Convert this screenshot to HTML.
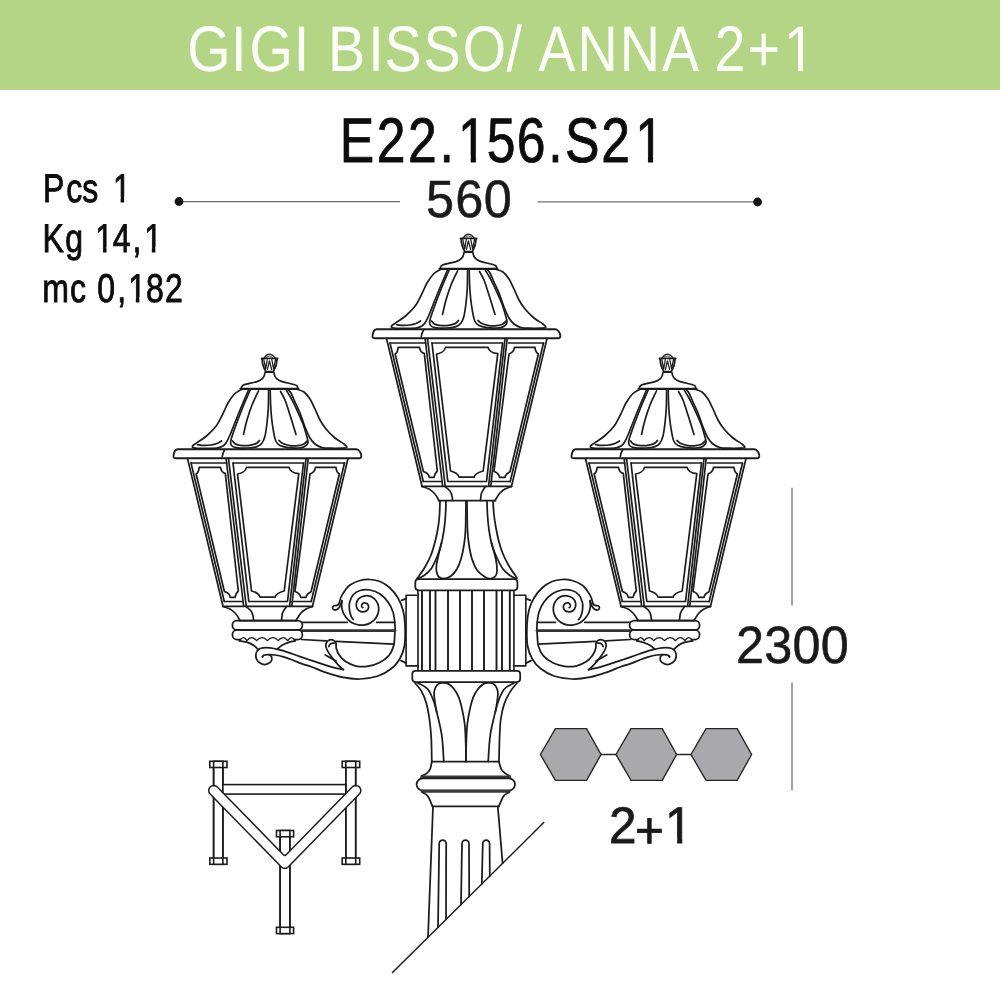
<!DOCTYPE html>
<html lang="en">
<head>
<meta charset="utf-8">
<title>GIGI BISSO/ ANNA 2+1 - E22.156.S21</title>
<style>
html,body{margin:0;padding:0;background:#fff;}
body{width:1000px;height:1000px;overflow:hidden;position:relative;font-family:"Liberation Sans",sans-serif;}
svg{position:absolute;left:0;top:0;display:block;will-change:transform;transform:translateZ(0);}
text{font-family:"Liberation Sans",sans-serif;-webkit-font-smoothing:antialiased;text-rendering:geometricPrecision;}
</style>
</head>
<body>
<svg width="1000" height="1000" viewBox="0 0 1000 1000">
<rect x="0" y="0" width="1000" height="1000" fill="#ffffff"/>
<rect x="0" y="0" width="1000" height="90" fill="#b4d586"/>
<text id="t_title" transform="translate(0,71.3) scale(0.8654,1)" x="216.5 267.0 288.2 339.3 357.2 379.0 425.5 444.2 489.5 534.8 585.4 603.3 622.1 667.2 716.2 764.9 807.9 825.5 863.9 906.0" y="0" font-size="64.4" fill="#fcfff8">GIGI BISSO/ ANNA 2+1</text><g transform="translate(0,71.3) scale(0.8654,1)" fill="#b4d586" stroke="none"><rect x="909.66" y="-6.01" width="12.49" height="7.81"/><rect x="927.85" y="-6.01" width="12.39" height="7.81"/></g>
<text id="t_code" transform="translate(0,161.9) scale(0.8200,1)" x="414.2 459.4 497.6 536.1 558.6 593.5 630.1 668.5 689.1 733.2 774.7" y="0" font-size="63" fill="#0c0c0c" stroke="#0c0c0c" stroke-width="0.8">E22.156.S21</text><g transform="translate(0,161.9) scale(0.8200,1)" fill="#ffffff" stroke="none"><rect x="561.79" y="-6.31" width="12.24" height="8.11"/><rect x="580.40" y="-6.31" width="12.15" height="8.11"/><rect x="777.89" y="-6.31" width="12.24" height="8.11"/><rect x="796.50" y="-6.31" width="12.15" height="8.11"/></g>
<text id="t_pcs" transform="translate(0,201.8) scale(0.8000,1)" x="53.8 82.9 102.9 122.9 141.2" y="0" font-size="40" fill="#0c0c0c" stroke="#0c0c0c" stroke-width="0.9">Pcs 1</text><g transform="translate(0,201.8) scale(0.8000,1)" fill="#ffffff" stroke="none"><rect x="142.55" y="-4.64" width="8.21" height="6.44"/><rect x="155.20" y="-4.64" width="8.30" height="6.44"/></g>
<text id="t_kg" transform="translate(0,251.8) scale(0.8000,1)" x="53.2 81.6 103.8 119.2 140.8 165.7 180.2" y="0" font-size="40" fill="#0c0c0c" stroke="#0c0c0c" stroke-width="0.9">Kg 14,1</text><g transform="translate(0,251.8) scale(0.8000,1)" fill="#ffffff" stroke="none"><rect x="120.55" y="-4.64" width="8.21" height="6.44"/><rect x="133.20" y="-4.64" width="8.30" height="6.44"/><rect x="181.55" y="-4.64" width="8.21" height="6.44"/><rect x="194.20" y="-4.64" width="8.30" height="6.44"/></g>
<text id="t_mc" transform="translate(0,301.6) scale(0.8000,1)" x="52.8 87.4 107.4 121.6 146.7 160.2 182.6 206.1" y="0" font-size="40" fill="#0c0c0c" stroke="#0c0c0c" stroke-width="0.9">mc 0,182</text><g transform="translate(0,301.6) scale(0.8000,1)" fill="#ffffff" stroke="none"><rect x="161.55" y="-4.64" width="8.21" height="6.44"/><rect x="174.20" y="-4.64" width="8.30" height="6.44"/></g>
<text id="t_560" transform="translate(0,217.4) scale(0.9600,1)" x="443.8 474.3 503.8" y="0" font-size="52.5" fill="#1a1a1a" stroke="#1a1a1a" stroke-width="0.5">560</text>
<text id="t_2300" transform="translate(0,663.1) scale(0.9600,1)" x="766.7 796.0 825.5 854.9" y="0" font-size="52.5" fill="#1a1a1a" stroke="#1a1a1a" stroke-width="0.5">2300</text>
<text id="t_21" transform="translate(0,843.0) scale(0.9600,1)" x="634.3 661.5 692.8" y="0" dy="0 4.6 -4.6" font-size="51.5" fill="#1a1a1a" stroke="#1a1a1a" stroke-width="0.8">2+1</text><g transform="translate(0,843.0) scale(0.9600,1)" fill="#ffffff" stroke="none"><rect x="695.13" y="-5.45" width="10.23" height="7.25"/><rect x="710.71" y="-5.45" width="10.23" height="7.25"/></g>
<g id="dimension-lines" fill="none" stroke="#707070" stroke-width="1.3">
<path d="M179,201.6H400M537.5,201.8H757.5"/>
<path d="M792,487.8V605.5M792,682.5V790.5"/>
</g>
<circle cx="179" cy="201.5" r="4.4" fill="#141414"/>
<circle cx="757.6" cy="202" r="4.4" fill="#141414"/>
<polygon points="540.4,754.5 555.4,728.6 586.6,728.6 601,754.5 586.6,780.4 555.4,780.4" fill="#a9a9ab" stroke="#262626" stroke-width="1.4" stroke-linejoin="miter"/>
<polygon points="616,754.5 631,728.6 662.2,728.6 676.6,754.5 662.2,780.4 631,780.4" fill="#a9a9ab" stroke="#262626" stroke-width="1.4" stroke-linejoin="miter"/>
<polygon points="691,754.5 706,728.6 737.2,728.6 751.6,754.5 737.2,780.4 706,780.4" fill="#a9a9ab" stroke="#262626" stroke-width="1.4" stroke-linejoin="miter"/>
<path d="M601,754.5H616M676.6,754.5H691" stroke="#262626" stroke-width="1.4" fill="none"/>
<g id="plan-icon" fill="#ffffff" stroke="#1c1c1c" stroke-width="1.6">
<rect x="213.6" y="761.3" width="9.3" height="103"/><rect x="209.8" y="761.3" width="17.2" height="6.2"/><rect x="209.8" y="858" width="17.2" height="6.3"/><path d="M213.6,761.3V864.3M222.9,761.3V864.3" fill="none"/>
<rect x="345.8" y="761.3" width="9.9" height="103"/><rect x="342.2" y="761.3" width="17.5" height="6.2"/><rect x="342.2" y="858" width="17.5" height="6.3"/><path d="M345.8,761.3V864.3M355.7,761.3V864.3" fill="none"/>
<rect x="280.1" y="830.5" width="9.8" height="103.1"/><rect x="276.5" y="830.5" width="17.1" height="6.3"/><rect x="276.5" y="927.3" width="17.1" height="6.3"/><path d="M280.1,830.5V933.6M289.9,830.5V933.6" fill="none"/>
<rect x="222.9" y="784.6" width="122.9" height="9.5"/>
<path d="M210.12,793.99L281.22,866.79L281.99,867.43L282.86,867.91L283.81,868.2L284.8,868.3L285.79,868.2L286.74,867.91L287.62,867.43L288.38,866.79L359.38,793.99L360.16,792.95L360.65,791.73L360.8,790.44L360.61,789.15L360.1,787.95L359.29,786.92L358.25,786.14L357.03,785.65L355.74,785.5L354.45,785.69L353.25,786.2L352.22,787.01L286.19,854.71Q284.8,856.14 283.4,854.71L217.28,787.01L216.25,786.2L215.05,785.69L213.76,785.5L212.46,785.66L211.25,786.14L210.21,786.92L209.4,787.95L208.89,789.15L208.7,790.44L208.86,791.74L209.34,792.95L210.12,793.99Z" fill="#ffffff" stroke-width="1.5" stroke-linejoin="round"/>
</g>
<g id="drawing" fill="none" stroke="#1c1c1c" stroke-width="1.75" stroke-linecap="round" stroke-linejoin="round">
<g id="lantern-c" stroke-width="1.7">
<path d="M463.2,237.9Q468.3,230.2 474,237.9" stroke-width="1.25"/>
<path d="M465.2,237.5Q468.3,234.4 471.8,237.5" stroke-width="0.75"/>
<path d="M460.6,238.4H476.6" stroke-width="1.88"/>
<path d="M461.1,239.1C461.3,243 462,247 464.4,250.5M476.1,239.1C475.9,243 475,247 472.8,250.5" stroke-width="1.75"/>
<path d="M462.8,239.5L464.7,248.8L466.3,239.5M466.4,249.5L468.4,240.8L470.7,249.5M470.8,239.5L472.6,248.8L474.5,239.5" stroke-width="1.25"/>
<path d="M464.6,251.9H472.3" stroke-width="2.38"/>
<path d="M463.8,253.2C463.5,258 461,260 456,261.6C450,263.3 444,264 441.5,265.6C440.5,266.5 440.4,267.5 440.4,268.5"/>
<path d="M473.1,253.2C473.4,258 476,260 481.2,261.6C487,263.3 493,264 495.7,265.6C496.7,266.5 496.8,267.5 496.8,268.5"/>
<path d="M439.5,268.9H497.5" stroke-width="2.12"/>
<path d="M441,269.3C439.75,270.08 435.83,271.72 433.5,274C431.17,276.28 428.95,279.67 427,283C425.05,286.33 423.77,290.17 421.8,294C419.83,297.83 417.92,302.33 415.2,306C412.48,309.67 408.7,313.23 405.5,316C402.3,318.77 398.28,321 396,322.6C393.72,324.2 392.53,324.8 391.8,325.6C391.07,326.4 391.23,326.97 391.6,327.4C391.97,327.83 393.6,328.07 394,328.2"/>
<path d="M496,269.3C497.17,269.75 500.83,270.38 503,272C505.17,273.62 507.17,276.17 509,279C510.83,281.83 512.33,285.5 514,289C515.67,292.5 517.17,296.67 519,300C520.83,303.33 522.5,306 525,309C527.5,312 531,315.5 534,318C537,320.5 541.07,322.58 543,324C544.93,325.42 545.2,325.9 545.6,326.5C546,327.1 545.83,327.32 545.4,327.6C544.97,327.88 543.4,328.1 543,328.2"/>
<path d="M394,328.2C396.33,328.22 404.17,328.37 408,328.3C411.83,328.23 414.67,328.18 417,327.8C419.33,327.42 420.67,326.8 422,326C423.33,325.2 423.83,324.83 425,323C426.17,321.17 427.67,318 429,315C430.33,312 431.33,309.17 433,305C434.67,300.83 436.58,295.83 439,290C441.42,284.17 446.08,273.33 447.5,270"/>
<path d="M449,270.5C447.75,273.42 443.83,282.25 441.5,288C439.17,293.75 436.83,300 435,305C433.17,310 431.4,315.17 430.5,318C429.6,320.83 429.6,320.75 429.6,322C429.6,323.25 429.6,324.57 430.5,325.5C431.4,326.43 432.25,327.18 435,327.6C437.75,328.02 443.5,328.17 447,328C450.5,327.83 453.67,327.43 456,326.6C458.33,325.77 459.67,324.77 461,323C462.33,321.23 463.17,319.33 464,316C464.83,312.67 465.45,307.67 466,303C466.55,298.33 467.03,293.5 467.3,288C467.57,282.5 467.55,273 467.6,270"/>
<path d="M457.5,271C456.42,273.33 452.92,280.17 451,285C449.08,289.83 447.42,295.08 446,300C444.58,304.92 443.08,312.08 442.5,314.5"/>
<path d="M431.5,321C431.92,321.47 432.75,323.08 434,323.8C435.25,324.52 436.83,325 439,325.3C441.17,325.6 444.33,325.88 447,325.6C449.67,325.32 453.08,324.45 455,323.6C456.92,322.75 457.92,321.02 458.5,320.5"/>
<path d="M396.5,324.7C397.58,324.82 400.75,325.35 403,325.4C405.25,325.45 407.83,325.32 410,325C412.17,324.68 414.25,324.17 416,323.5C417.75,322.83 419.75,321.42 420.5,321"/>
<path d="M487,269.5C487.5,270.08 488.83,270.92 490,273C491.17,275.08 492.5,278.67 494,282C495.5,285.33 497.33,288.83 499,293C500.67,297.17 502.33,302.83 504,307C505.67,311.17 507.33,315.17 509,318C510.67,320.83 512,322.4 514,324C516,325.6 518.33,326.9 521,327.6C523.67,328.3 526.33,328.1 530,328.2C533.67,328.3 540.83,328.2 543,328.2"/>
<path d="M485.5,270.5C486.25,271.75 488.42,275.08 490,278C491.58,280.92 493,283.67 495,288C497,292.33 500.17,299.17 502,304C503.83,308.83 505.17,314.08 506,317C506.83,319.92 506.97,320.3 507,321.5C507.03,322.7 506.78,323.35 506.2,324.2C505.62,325.05 505.03,325.97 503.5,326.6C501.97,327.23 499.75,327.83 497,328C494.25,328.17 490,328 487,327.6C484,327.2 481,326.62 479,325.6C477,324.58 476.07,323.77 475,321.5C473.93,319.23 473.33,315.92 472.6,312C471.87,308.08 471.1,302.67 470.6,298C470.1,293.33 469.83,288.67 469.6,284C469.37,279.33 469.27,272.33 469.2,270"/>
<path d="M479.5,271.5C480.25,272.92 482.42,276.08 484,280C485.58,283.92 487.5,290.33 489,295C490.5,299.67 492,304.75 493,308C494,311.25 494.67,313.42 495,314.5"/>
<path d="M478,320.5C478.67,321.02 480.17,322.75 482,323.6C483.83,324.45 486.5,325.27 489,325.6C491.5,325.93 494.67,325.87 497,325.6C499.33,325.33 501.5,324.77 503,324C504.5,323.23 505.5,321.5 506,321"/>
<path d="M376.5,329.3H555.5C558.5,329.5 560.5,334 560.3,336.5C560.2,337.8 559.5,338.2 558,338.2H374.5C373,338.2 372.3,337.6 372.5,336C372.9,332.5 374,329.6 376.5,329.3Z" stroke-width="1.88"/>
<path d="M423.6,329.8C422.3,332 421.4,335 421,338"/>
<path d="M390,343H425.6M432,343H502.5M508.6,343H543.5"/>
<path d="M386.5,338.5L422,486.3"/>
<path d="M389.98,343L423.29,481.5"/>
<path d="M395.13,354C396.63,353 397.8,351 398.2,347.3H419.5C420,350.5 421.5,352.8 424.3,353.3L437.3,471C435.5,472.5 434.5,475 434,477.4H429.3C429,475 427.5,472.8 423.39,471.5Z"/>
<path d="M425.1,338.5L442.6,486"/>
<path d="M427.5,338.5L445.2,486"/>
<path d="M432,343L447.8,481.5L486.5,481.5L502.5,343"/>
<path d="M436.5,354C440,353.6 444.6,351.5 445.5,347.4H488C489,351.5 493.5,353.3 497.8,353.6L483.2,471C479,472 475,474 474,477.2H459.2C458,474 454.5,472 450.5,471Z"/>
<path d="M505,338.5L488.6,486"/>
<path d="M507.2,338.5L490.8,486"/>
<path d="M547,338.5L511.5,486.3"/>
<path d="M543.5,343L510.19,481.5"/>
<path d="M509,354C511.5,353 514,351 514.5,347.3H535C535.2,350.5 536,352.6 538.37,354L510.04,471.8C507.5,473 505.5,475 505,477.3H499.6C499.2,475 497,472.5 494,471.5Z"/>
<path d="M423.29,481.5H441.8M490.8,481.5H510.19"/>
<path d="M422,486.3H511.5" stroke-width="1.75"/>
<path d="M422,486.5C423.17,486.92 427,487.92 429,489C431,490.08 432.67,491.67 434,493C435.33,494.33 436.17,495.75 437,497C437.83,498.25 438.67,499.92 439,500.5"/>
<path d="M511.5,486.5C510.42,486.92 506.92,487.92 505,489C503.08,490.08 501.42,491.5 500,493C498.58,494.5 497.33,496.75 496.5,498C495.67,499.25 495.25,500.08 495,500.5"/>
<path d="M445,486.5C445.83,487.25 448.83,489.42 450,491C451.17,492.58 451.58,494.42 452,496C452.42,497.58 452.42,499.75 452.5,500.5"/>
<path d="M485.5,486.5C484.83,487.58 482.33,490.67 481.5,493C480.67,495.33 480.67,499.25 480.5,500.5"/>
<path d="M438.5,500.6H495.5" stroke-width="1.75"/>
</g>
<g id="lantern-l" stroke-width="1.7" transform="translate(-199,120)">
<path d="M463.2,237.9Q468.3,230.2 474,237.9" stroke-width="1.25"/>
<path d="M465.2,237.5Q468.3,234.4 471.8,237.5" stroke-width="0.75"/>
<path d="M460.6,238.4H476.6" stroke-width="1.88"/>
<path d="M461.1,239.1C461.3,243 462,247 464.4,250.5M476.1,239.1C475.9,243 475,247 472.8,250.5" stroke-width="1.75"/>
<path d="M462.8,239.5L464.7,248.8L466.3,239.5M466.4,249.5L468.4,240.8L470.7,249.5M470.8,239.5L472.6,248.8L474.5,239.5" stroke-width="1.25"/>
<path d="M464.6,251.9H472.3" stroke-width="2.38"/>
<path d="M463.8,253.2C463.5,258 461,260 456,261.6C450,263.3 444,264 441.5,265.6C440.5,266.5 440.4,267.5 440.4,268.5"/>
<path d="M473.1,253.2C473.4,258 476,260 481.2,261.6C487,263.3 493,264 495.7,265.6C496.7,266.5 496.8,267.5 496.8,268.5"/>
<path d="M439.5,268.9H497.5" stroke-width="2.12"/>
<path d="M441,269.3C439.75,270.08 435.83,271.72 433.5,274C431.17,276.28 428.95,279.67 427,283C425.05,286.33 423.77,290.17 421.8,294C419.83,297.83 417.92,302.33 415.2,306C412.48,309.67 408.7,313.23 405.5,316C402.3,318.77 398.28,321 396,322.6C393.72,324.2 392.53,324.8 391.8,325.6C391.07,326.4 391.23,326.97 391.6,327.4C391.97,327.83 393.6,328.07 394,328.2"/>
<path d="M496,269.3C497.17,269.75 500.83,270.38 503,272C505.17,273.62 507.17,276.17 509,279C510.83,281.83 512.33,285.5 514,289C515.67,292.5 517.17,296.67 519,300C520.83,303.33 522.5,306 525,309C527.5,312 531,315.5 534,318C537,320.5 541.07,322.58 543,324C544.93,325.42 545.2,325.9 545.6,326.5C546,327.1 545.83,327.32 545.4,327.6C544.97,327.88 543.4,328.1 543,328.2"/>
<path d="M394,328.2C396.33,328.22 404.17,328.37 408,328.3C411.83,328.23 414.67,328.18 417,327.8C419.33,327.42 420.67,326.8 422,326C423.33,325.2 423.83,324.83 425,323C426.17,321.17 427.67,318 429,315C430.33,312 431.33,309.17 433,305C434.67,300.83 436.58,295.83 439,290C441.42,284.17 446.08,273.33 447.5,270"/>
<path d="M449,270.5C447.75,273.42 443.83,282.25 441.5,288C439.17,293.75 436.83,300 435,305C433.17,310 431.4,315.17 430.5,318C429.6,320.83 429.6,320.75 429.6,322C429.6,323.25 429.6,324.57 430.5,325.5C431.4,326.43 432.25,327.18 435,327.6C437.75,328.02 443.5,328.17 447,328C450.5,327.83 453.67,327.43 456,326.6C458.33,325.77 459.67,324.77 461,323C462.33,321.23 463.17,319.33 464,316C464.83,312.67 465.45,307.67 466,303C466.55,298.33 467.03,293.5 467.3,288C467.57,282.5 467.55,273 467.6,270"/>
<path d="M457.5,271C456.42,273.33 452.92,280.17 451,285C449.08,289.83 447.42,295.08 446,300C444.58,304.92 443.08,312.08 442.5,314.5"/>
<path d="M431.5,321C431.92,321.47 432.75,323.08 434,323.8C435.25,324.52 436.83,325 439,325.3C441.17,325.6 444.33,325.88 447,325.6C449.67,325.32 453.08,324.45 455,323.6C456.92,322.75 457.92,321.02 458.5,320.5"/>
<path d="M396.5,324.7C397.58,324.82 400.75,325.35 403,325.4C405.25,325.45 407.83,325.32 410,325C412.17,324.68 414.25,324.17 416,323.5C417.75,322.83 419.75,321.42 420.5,321"/>
<path d="M487,269.5C487.5,270.08 488.83,270.92 490,273C491.17,275.08 492.5,278.67 494,282C495.5,285.33 497.33,288.83 499,293C500.67,297.17 502.33,302.83 504,307C505.67,311.17 507.33,315.17 509,318C510.67,320.83 512,322.4 514,324C516,325.6 518.33,326.9 521,327.6C523.67,328.3 526.33,328.1 530,328.2C533.67,328.3 540.83,328.2 543,328.2"/>
<path d="M485.5,270.5C486.25,271.75 488.42,275.08 490,278C491.58,280.92 493,283.67 495,288C497,292.33 500.17,299.17 502,304C503.83,308.83 505.17,314.08 506,317C506.83,319.92 506.97,320.3 507,321.5C507.03,322.7 506.78,323.35 506.2,324.2C505.62,325.05 505.03,325.97 503.5,326.6C501.97,327.23 499.75,327.83 497,328C494.25,328.17 490,328 487,327.6C484,327.2 481,326.62 479,325.6C477,324.58 476.07,323.77 475,321.5C473.93,319.23 473.33,315.92 472.6,312C471.87,308.08 471.1,302.67 470.6,298C470.1,293.33 469.83,288.67 469.6,284C469.37,279.33 469.27,272.33 469.2,270"/>
<path d="M479.5,271.5C480.25,272.92 482.42,276.08 484,280C485.58,283.92 487.5,290.33 489,295C490.5,299.67 492,304.75 493,308C494,311.25 494.67,313.42 495,314.5"/>
<path d="M478,320.5C478.67,321.02 480.17,322.75 482,323.6C483.83,324.45 486.5,325.27 489,325.6C491.5,325.93 494.67,325.87 497,325.6C499.33,325.33 501.5,324.77 503,324C504.5,323.23 505.5,321.5 506,321"/>
<path d="M376.5,329.3H555.5C558.5,329.5 560.5,334 560.3,336.5C560.2,337.8 559.5,338.2 558,338.2H374.5C373,338.2 372.3,337.6 372.5,336C372.9,332.5 374,329.6 376.5,329.3Z" stroke-width="1.88"/>
<path d="M423.6,329.8C422.3,332 421.4,335 421,338"/>
<path d="M390,343H425.6M432,343H502.5M508.6,343H543.5"/>
<path d="M386.5,338.5L422,486.3"/>
<path d="M389.98,343L423.29,481.5"/>
<path d="M395.13,354C396.63,353 397.8,351 398.2,347.3H419.5C420,350.5 421.5,352.8 424.3,353.3L437.3,471C435.5,472.5 434.5,475 434,477.4H429.3C429,475 427.5,472.8 423.39,471.5Z"/>
<path d="M425.1,338.5L442.6,486"/>
<path d="M427.5,338.5L445.2,486"/>
<path d="M432,343L447.8,481.5L486.5,481.5L502.5,343"/>
<path d="M436.5,354C440,353.6 444.6,351.5 445.5,347.4H488C489,351.5 493.5,353.3 497.8,353.6L483.2,471C479,472 475,474 474,477.2H459.2C458,474 454.5,472 450.5,471Z"/>
<path d="M505,338.5L488.6,486"/>
<path d="M507.2,338.5L490.8,486"/>
<path d="M547,338.5L511.5,486.3"/>
<path d="M543.5,343L510.19,481.5"/>
<path d="M509,354C511.5,353 514,351 514.5,347.3H535C535.2,350.5 536,352.6 538.37,354L510.04,471.8C507.5,473 505.5,475 505,477.3H499.6C499.2,475 497,472.5 494,471.5Z"/>
<path d="M423.29,481.5H441.8M490.8,481.5H510.19"/>
<path d="M422,486.3H511.5" stroke-width="1.75"/>
<path d="M422,486.5C423.17,486.92 427,487.92 429,489C431,490.08 432.67,491.67 434,493C435.33,494.33 436.17,495.75 437,497C437.83,498.25 438.67,499.92 439,500.5"/>
<path d="M511.5,486.5C510.42,486.92 506.92,487.92 505,489C503.08,490.08 501.42,491.5 500,493C498.58,494.5 497.33,496.75 496.5,498C495.67,499.25 495.25,500.08 495,500.5"/>
<path d="M445,486.5C445.83,487.25 448.83,489.42 450,491C451.17,492.58 451.58,494.42 452,496C452.42,497.58 452.42,499.75 452.5,500.5"/>
<path d="M485.5,486.5C484.83,487.58 482.33,490.67 481.5,493C480.67,495.33 480.67,499.25 480.5,500.5"/>
<path d="M438.5,500.6H495.5" stroke-width="1.75"/>
</g>
<g id="lantern-r" stroke-width="1.7" transform="translate(199,120)">
<path d="M463.2,237.9Q468.3,230.2 474,237.9" stroke-width="1.25"/>
<path d="M465.2,237.5Q468.3,234.4 471.8,237.5" stroke-width="0.75"/>
<path d="M460.6,238.4H476.6" stroke-width="1.88"/>
<path d="M461.1,239.1C461.3,243 462,247 464.4,250.5M476.1,239.1C475.9,243 475,247 472.8,250.5" stroke-width="1.75"/>
<path d="M462.8,239.5L464.7,248.8L466.3,239.5M466.4,249.5L468.4,240.8L470.7,249.5M470.8,239.5L472.6,248.8L474.5,239.5" stroke-width="1.25"/>
<path d="M464.6,251.9H472.3" stroke-width="2.38"/>
<path d="M463.8,253.2C463.5,258 461,260 456,261.6C450,263.3 444,264 441.5,265.6C440.5,266.5 440.4,267.5 440.4,268.5"/>
<path d="M473.1,253.2C473.4,258 476,260 481.2,261.6C487,263.3 493,264 495.7,265.6C496.7,266.5 496.8,267.5 496.8,268.5"/>
<path d="M439.5,268.9H497.5" stroke-width="2.12"/>
<path d="M441,269.3C439.75,270.08 435.83,271.72 433.5,274C431.17,276.28 428.95,279.67 427,283C425.05,286.33 423.77,290.17 421.8,294C419.83,297.83 417.92,302.33 415.2,306C412.48,309.67 408.7,313.23 405.5,316C402.3,318.77 398.28,321 396,322.6C393.72,324.2 392.53,324.8 391.8,325.6C391.07,326.4 391.23,326.97 391.6,327.4C391.97,327.83 393.6,328.07 394,328.2"/>
<path d="M496,269.3C497.17,269.75 500.83,270.38 503,272C505.17,273.62 507.17,276.17 509,279C510.83,281.83 512.33,285.5 514,289C515.67,292.5 517.17,296.67 519,300C520.83,303.33 522.5,306 525,309C527.5,312 531,315.5 534,318C537,320.5 541.07,322.58 543,324C544.93,325.42 545.2,325.9 545.6,326.5C546,327.1 545.83,327.32 545.4,327.6C544.97,327.88 543.4,328.1 543,328.2"/>
<path d="M394,328.2C396.33,328.22 404.17,328.37 408,328.3C411.83,328.23 414.67,328.18 417,327.8C419.33,327.42 420.67,326.8 422,326C423.33,325.2 423.83,324.83 425,323C426.17,321.17 427.67,318 429,315C430.33,312 431.33,309.17 433,305C434.67,300.83 436.58,295.83 439,290C441.42,284.17 446.08,273.33 447.5,270"/>
<path d="M449,270.5C447.75,273.42 443.83,282.25 441.5,288C439.17,293.75 436.83,300 435,305C433.17,310 431.4,315.17 430.5,318C429.6,320.83 429.6,320.75 429.6,322C429.6,323.25 429.6,324.57 430.5,325.5C431.4,326.43 432.25,327.18 435,327.6C437.75,328.02 443.5,328.17 447,328C450.5,327.83 453.67,327.43 456,326.6C458.33,325.77 459.67,324.77 461,323C462.33,321.23 463.17,319.33 464,316C464.83,312.67 465.45,307.67 466,303C466.55,298.33 467.03,293.5 467.3,288C467.57,282.5 467.55,273 467.6,270"/>
<path d="M457.5,271C456.42,273.33 452.92,280.17 451,285C449.08,289.83 447.42,295.08 446,300C444.58,304.92 443.08,312.08 442.5,314.5"/>
<path d="M431.5,321C431.92,321.47 432.75,323.08 434,323.8C435.25,324.52 436.83,325 439,325.3C441.17,325.6 444.33,325.88 447,325.6C449.67,325.32 453.08,324.45 455,323.6C456.92,322.75 457.92,321.02 458.5,320.5"/>
<path d="M396.5,324.7C397.58,324.82 400.75,325.35 403,325.4C405.25,325.45 407.83,325.32 410,325C412.17,324.68 414.25,324.17 416,323.5C417.75,322.83 419.75,321.42 420.5,321"/>
<path d="M487,269.5C487.5,270.08 488.83,270.92 490,273C491.17,275.08 492.5,278.67 494,282C495.5,285.33 497.33,288.83 499,293C500.67,297.17 502.33,302.83 504,307C505.67,311.17 507.33,315.17 509,318C510.67,320.83 512,322.4 514,324C516,325.6 518.33,326.9 521,327.6C523.67,328.3 526.33,328.1 530,328.2C533.67,328.3 540.83,328.2 543,328.2"/>
<path d="M485.5,270.5C486.25,271.75 488.42,275.08 490,278C491.58,280.92 493,283.67 495,288C497,292.33 500.17,299.17 502,304C503.83,308.83 505.17,314.08 506,317C506.83,319.92 506.97,320.3 507,321.5C507.03,322.7 506.78,323.35 506.2,324.2C505.62,325.05 505.03,325.97 503.5,326.6C501.97,327.23 499.75,327.83 497,328C494.25,328.17 490,328 487,327.6C484,327.2 481,326.62 479,325.6C477,324.58 476.07,323.77 475,321.5C473.93,319.23 473.33,315.92 472.6,312C471.87,308.08 471.1,302.67 470.6,298C470.1,293.33 469.83,288.67 469.6,284C469.37,279.33 469.27,272.33 469.2,270"/>
<path d="M479.5,271.5C480.25,272.92 482.42,276.08 484,280C485.58,283.92 487.5,290.33 489,295C490.5,299.67 492,304.75 493,308C494,311.25 494.67,313.42 495,314.5"/>
<path d="M478,320.5C478.67,321.02 480.17,322.75 482,323.6C483.83,324.45 486.5,325.27 489,325.6C491.5,325.93 494.67,325.87 497,325.6C499.33,325.33 501.5,324.77 503,324C504.5,323.23 505.5,321.5 506,321"/>
<path d="M376.5,329.3H555.5C558.5,329.5 560.5,334 560.3,336.5C560.2,337.8 559.5,338.2 558,338.2H374.5C373,338.2 372.3,337.6 372.5,336C372.9,332.5 374,329.6 376.5,329.3Z" stroke-width="1.88"/>
<path d="M423.6,329.8C422.3,332 421.4,335 421,338"/>
<path d="M390,343H425.6M432,343H502.5M508.6,343H543.5"/>
<path d="M386.5,338.5L422,486.3"/>
<path d="M389.98,343L423.29,481.5"/>
<path d="M395.13,354C396.63,353 397.8,351 398.2,347.3H419.5C420,350.5 421.5,352.8 424.3,353.3L437.3,471C435.5,472.5 434.5,475 434,477.4H429.3C429,475 427.5,472.8 423.39,471.5Z"/>
<path d="M425.1,338.5L442.6,486"/>
<path d="M427.5,338.5L445.2,486"/>
<path d="M432,343L447.8,481.5L486.5,481.5L502.5,343"/>
<path d="M436.5,354C440,353.6 444.6,351.5 445.5,347.4H488C489,351.5 493.5,353.3 497.8,353.6L483.2,471C479,472 475,474 474,477.2H459.2C458,474 454.5,472 450.5,471Z"/>
<path d="M505,338.5L488.6,486"/>
<path d="M507.2,338.5L490.8,486"/>
<path d="M547,338.5L511.5,486.3"/>
<path d="M543.5,343L510.19,481.5"/>
<path d="M509,354C511.5,353 514,351 514.5,347.3H535C535.2,350.5 536,352.6 538.37,354L510.04,471.8C507.5,473 505.5,475 505,477.3H499.6C499.2,475 497,472.5 494,471.5Z"/>
<path d="M423.29,481.5H441.8M490.8,481.5H510.19"/>
<path d="M422,486.3H511.5" stroke-width="1.75"/>
<path d="M422,486.5C423.17,486.92 427,487.92 429,489C431,490.08 432.67,491.67 434,493C435.33,494.33 436.17,495.75 437,497C437.83,498.25 438.67,499.92 439,500.5"/>
<path d="M511.5,486.5C510.42,486.92 506.92,487.92 505,489C503.08,490.08 501.42,491.5 500,493C498.58,494.5 497.33,496.75 496.5,498C495.67,499.25 495.25,500.08 495,500.5"/>
<path d="M445,486.5C445.83,487.25 448.83,489.42 450,491C451.17,492.58 451.58,494.42 452,496C452.42,497.58 452.42,499.75 452.5,500.5"/>
<path d="M485.5,486.5C484.83,487.58 482.33,490.67 481.5,493C480.67,495.33 480.67,499.25 480.5,500.5"/>
<path d="M438.5,500.6H495.5" stroke-width="1.75"/>
</g>
<g id="column">
<path d="M440,501C439.92,503.33 439.83,510.5 439.5,515C439.17,519.5 438.75,523.5 438,528C437.25,532.5 436.17,537.5 435,542C433.83,546.5 432.67,550.83 431,555C429.33,559.17 427,563.5 425,567C423,570.5 420.33,574.08 419,576C417.67,577.92 417.33,578.08 417,578.5"/>
<path d="M493,501C493.17,503.33 493.5,510.5 494,515C494.5,519.5 495.17,523.5 496,528C496.83,532.5 497.83,537.67 499,542C500.17,546.33 501.33,550 503,554C504.67,558 507,562.5 509,566C511,569.5 513.67,573 515,575C516.33,577 516.67,577.5 517,578"/>
<path d="M446,501C445.92,503.33 445.83,510.17 445.5,515C445.17,519.83 444.75,525 444,530C443.25,535 442.17,540.5 441,545C439.83,549.5 438.67,553 437,557C435.33,561 433.17,565.92 431,569C428.83,572.08 426.17,573.92 424,575.5C421.83,577.08 419,578 418,578.5"/>
<path d="M487,501C487.08,503.33 487.17,510.17 487.5,515C487.83,519.83 488.25,525 489,530C489.75,535 490.67,540.33 492,545C493.33,549.67 495.17,554 497,558C498.83,562 500.83,566.08 503,569C505.17,571.92 507.83,573.92 510,575.5C512.17,577.08 515,578 516,578.5"/>
<path d="M441.5,543C441,545 439.33,551.33 438.5,555C437.67,558.67 436.82,562.17 436.5,565C436.18,567.83 436.18,570 436.6,572C437.02,574 437.77,575.9 439,577C440.23,578.1 442,578.77 444,578.6C446,578.43 448.83,577.6 451,576C453.17,574.4 455.33,571.83 457,569C458.67,566.17 459.83,563 461,559C462.17,555 463.25,549.83 464,545C464.75,540.17 465.17,537.33 465.5,530C465.83,522.67 465.92,505.83 466,501"/>
<path d="M491.5,543C492.25,545.83 495.08,555.33 496,560C496.92,564.67 497.08,568.33 497,571C496.92,573.67 496.5,574.73 495.5,576C494.5,577.27 492.75,578.43 491,578.6C489.25,578.77 487.33,578.43 485,577C482.67,575.57 479.17,573 477,570C474.83,567 473.33,563.17 472,559C470.67,554.83 469.75,549.83 469,545C468.25,540.17 467.83,537.33 467.5,530C467.17,522.67 467.08,505.83 467,501"/>
<rect x="415.3" y="579.1" width="102.1" height="11.2" rx="3.2" ry="3.2" stroke-width="1.75"/>
<path d="M418,591V670M513.9,591V670" stroke-width="1.62"/>
<path d="M422,591V670M430,591V670M435.5,591V670M448,591V670M460,591V670M472,591V670M484,591V670M496.5,591V670M502,591V670M509.8,591V670" stroke-width="1.88"/>
<path d="M418,595.2H406.1V665.9H418M513.9,595.2H525.8V665.9H513.9" stroke-width="1.62"/>
<rect x="412.3" y="670.8" width="107.9" height="11.2" rx="3.2" ry="3.2" stroke-width="1.75"/>
<path d="M415,683C416.1,684.4 419.7,688 421.6,691.4C423.5,694.8 425.1,698.8 426.4,703.4C427.7,708 428.6,713.4 429.4,719C430.2,724.6 430.8,729.92 431.2,737C431.6,744.08 431.7,757.42 431.8,761.5"/>
<path d="M517,683C515.9,684.4 512.5,688 510.4,691.4C508.3,694.8 506,698.8 504.4,703.4C502.8,708 501.6,713.4 500.8,719C500,724.6 499.9,729.92 499.6,737C499.3,744.08 499.1,757.42 499,761.5"/>
<path d="M418,683C419.6,684 425,686 427.6,689C430.2,692 431.8,696 433.6,701C435.4,706 437,713 438.4,719C439.8,725 441.1,729.92 442,737C442.9,744.08 443.5,757.42 443.8,761.5"/>
<path d="M514,683C512.4,684 507,686 504.4,689C501.8,692 500.2,696 498.4,701C496.6,706 495,713 493.6,719C492.2,725 490.9,729.92 490,737C489.1,744.08 488.5,757.42 488.2,761.5"/>
<path d="M436.6,712C436.3,710.17 435.2,704.43 434.8,701C434.4,697.57 433.8,694.1 434.2,691.4C434.6,688.7 435.9,686.2 437.2,684.8C438.5,683.4 440.2,683.2 442,683C443.8,682.8 446,682.6 448,683.6C450,684.6 452.2,686.7 454,689C455.8,691.3 457.4,693.8 458.8,697.4C460.2,701 461.4,706 462.4,710.6C463.4,715.2 464.23,719.27 464.8,725C465.37,730.73 465.6,738.92 465.8,745C466,751.08 465.97,758.75 466,761.5"/>
<path d="M495.4,712C495.7,710.17 496.8,704.43 497.2,701C497.6,697.57 498.2,694.1 497.8,691.4C497.4,688.7 496.1,686.2 494.8,684.8C493.5,683.4 491.8,683.2 490,683C488.2,682.8 486,682.6 484,683.6C482,684.6 479.8,686.7 478,689C476.2,691.3 474.6,693.8 473.2,697.4C471.8,701 470.6,706 469.6,710.6C468.6,715.2 467.77,719.27 467.2,725C466.63,730.73 466.4,738.92 466.2,745C466,751.08 466.03,758.75 466,761.5"/>
<path d="M431.8,761.6H499" stroke-width="1.75"/>
<path d="M431.8,762C431.5,763.23 430.9,767.47 430,769.4C429.1,771.33 427.8,772.5 426.4,773.6C425,774.7 422.4,775.6 421.6,776"/>
<path d="M499,762C499.4,763.23 500.3,767.47 501.4,769.4C502.5,771.33 504.2,772.5 505.6,773.6C507,774.7 509.1,775.6 509.8,776"/>
<path d="M421.6,777H509.8" stroke-width="3" stroke="#3a3a3a"/>
<rect x="416.6" y="778.4" width="98.4" height="12" rx="6" ry="6" stroke-width="1.75"/>
<path d="M422.2,791.3H509.2" stroke-width="2.75" stroke="#3a3a3a"/>
<path d="M422.2,792.2C423.1,792.8 426.2,794.2 427.6,795.8C429,797.4 429.8,800.1 430.6,801.8C431.4,803.5 432.1,805.3 432.4,806"/>
<path d="M509.2,792.2C508.3,792.8 505.2,794.2 503.8,795.8C502.4,797.4 501.6,800.1 500.8,801.8C500,803.5 499.3,805.3 499,806"/>
<path d="M432.4,806.4H499" stroke-width="1.75"/>
<path d="M433,806.6L428,937.29"/>
<path d="M497.8,806.6L502.6,863.31"/>
<path d="M438,927.38L439.2,843.7A3.5,3.5 0 0 1 446.2,843.7L446,919.44"/>
<path d="M461,904.57L462,843.7A3.5,3.5 0 0 1 469,843.7L469.2,896.44"/>
<path d="M481.8,883.94L482.8,843.6A3.4,3.4 0 0 1 489.6,843.6L489.8,876.01"/>
<path d="M392.5,972.5L543.75,822.5" stroke-width="1.5"/>
</g>
<g id="arm-l">
<path d="M341.97,601.01C341.92,601.99 341.45,604.98 341.65,606.89C341.84,608.8 342.42,610.74 343.13,612.48C343.85,614.23 344.84,615.9 345.95,617.34C347.07,618.79 348.41,620.11 349.82,621.18C351.24,622.25 352.83,623.14 354.42,623.78C356.01,624.42 357.73,624.84 359.38,625.04C361.03,625.23 362.73,625.19 364.32,624.95C365.91,624.71 367.49,624.23 368.9,623.6C370.32,622.97 371.66,622.12 372.82,621.18C373.97,620.23 375.01,619.1 375.84,617.93C376.67,616.76 377.34,615.45 377.81,614.15C378.28,612.86 378.57,611.48 378.67,610.16C378.78,608.84 378.69,607.49 378.45,606.25C378.22,605 377.79,603.78 377.25,602.7C376.72,601.61 376.02,600.6 375.25,599.74C374.48,598.88 373.57,598.13 372.65,597.54C371.73,596.95 370.71,596.49 369.72,596.19C368.72,595.88 367.67,595.73 366.69,595.71C365.71,595.68 364.72,595.83 363.82,596.03C362.91,596.24 362.03,596.53 361.25,596.92C360.47,597.31 359.74,597.83 359.12,598.39C358.51,598.94 357.97,599.6 357.55,600.27C357.13,600.94 356.81,601.68 356.59,602.4C356.38,603.11 356.28,603.87 356.27,604.57C356.26,605.28 356.37,605.98 356.53,606.63C356.68,607.28 356.9,607.9 357.18,608.45C357.47,609.01 357.85,609.52 358.25,609.95C358.65,610.39 359.13,610.76 359.61,611.05C360.08,611.34 360.61,611.56 361.12,611.7C361.63,611.84 362.16,611.89 362.66,611.89C363.15,611.89 363.63,611.78 364.09,611.69C364.55,611.61 364.99,611.55 365.4,611.4C365.82,611.24 366.22,611.03 366.57,610.78C366.92,610.53 367.25,610.23 367.52,609.9C367.79,609.57 368.02,609.2 368.19,608.82C368.36,608.45 368.49,608.04 368.55,607.64C368.62,607.23 368.64,606.81 368.59,606.42C368.54,606.03 368.41,605.63 368.25,605.28C368.09,604.93 367.88,604.6 367.65,604.31C367.41,604.02 367.13,603.77 366.84,603.56C366.55,603.35 366.22,603.19 365.9,603.07C365.58,602.95 365.24,602.88 364.91,602.86C364.58,602.83 364.24,602.85 363.94,602.92C363.63,602.99 363.33,603.13 363.08,603.28C362.82,603.43 362.59,603.62 362.39,603.83C362.2,604.03 362.04,604.27 361.93,604.5C361.81,604.73 361.73,604.98 361.68,605.21C361.64,605.45 361.63,605.69 361.65,605.92C361.68,606.14 361.74,606.35 361.81,606.54C361.89,606.73 361.98,606.9 362.09,607.05C362.2,607.19 362.33,607.32 362.47,607.42C362.6,607.52 362.83,607.6 362.9,607.64"/>
<path d="M342,600.5C341.92,600.83 341.92,601.42 341.5,602.5C341.08,603.58 340.25,605.83 339.5,607C338.75,608.17 337.92,609.03 337,609.5C336.08,609.97 334.75,610.08 334,609.8C333.25,609.52 332.5,608.47 332.5,607.8C332.5,607.13 333.25,606.2 334,605.8C334.75,605.4 336.17,605.78 337,605.4C337.83,605.02 338.33,604.9 339,603.5C339.67,602.1 340,599.17 341,597C342,594.83 343.5,592.5 345,590.5C346.5,588.5 347.5,586.67 350,585C352.5,583.33 356.67,581.42 360,580.5C363.33,579.58 366.67,579.33 370,579.5C373.33,579.67 376.67,580.08 380,581.5C383.33,582.92 387,585.25 390,588C393,590.75 395.83,594.33 398,598C400.17,601.67 401.83,605.5 403,610C404.17,614.5 404.77,619 405,625C405.23,631 405.3,640.3 404.4,646C403.5,651.7 401.8,655.4 399.6,659.2C397.4,663 394.8,666 391.2,668.8C387.6,671.6 383.2,674.3 378,676C372.8,677.7 366,678.8 360,679C354,679.2 348,678.4 342,677.2C336,676 329,673.5 324,671.8C319,670.1 315.75,668.37 312,667C308.25,665.63 304.75,664.77 301.5,663.6C298.25,662.43 295.5,661.13 292.5,660C289.5,658.87 286.35,657.63 283.5,656.8C280.65,655.97 277.95,655.37 275.4,655C272.85,654.63 270.15,654.57 268.2,654.6C266.25,654.63 264.67,654.8 263.7,655.2C262.73,655.6 262.62,656.7 262.4,657"/>
<path d="M353.4,619.6C353.07,619.13 351.97,617.98 351.4,616.8C350.83,615.62 350.35,614.05 350,612.5C349.65,610.95 349.35,609.25 349.3,607.5C349.25,605.75 349.08,604.08 349.7,602C350.32,599.92 351.28,596.92 353,595C354.72,593.08 357.17,591.33 360,590.5C362.83,589.67 366.67,589.42 370,590C373.33,590.58 377,592 380,594C383,596 385.83,599 388,602C390.17,605 391.83,608.17 393,612C394.17,615.83 394.7,621.33 395,625C395.3,628.67 395.03,630.5 394.8,634C394.57,637.5 394.6,642.4 393.6,646C392.6,649.6 391.2,652.8 388.8,655.6C386.4,658.4 382.8,661 379.2,662.8C375.6,664.6 371.2,665.9 367.2,666.4C363.2,666.9 358.8,666.6 355.2,665.8C351.6,665 348.2,663.3 345.6,661.6C343,659.9 341.15,657.8 339.6,655.6C338.05,653.4 336.9,650.5 336.3,648.4C335.7,646.3 336.45,644.37 336,643C335.55,641.63 334.6,640.73 333.6,640.2C332.6,639.67 331.1,639.53 330,639.8C328.9,640.07 327.7,640.77 327,641.8C326.3,642.83 325.7,644.5 325.8,646C325.9,647.5 326.5,648.8 327.6,650.8C328.7,652.8 330.6,655.6 332.4,658C334.2,660.4 336.57,663.27 338.4,665.2C340.23,667.13 342.57,668.87 343.4,669.6"/>
<path d="M328.8,646.5C329.1,646.05 329.63,644.38 330.6,643.8C331.57,643.22 333.93,643.13 334.6,643"/>
<path d="M325.3,655L336,661"/>
<path d="M343.4,669.6C342.17,669.37 339.23,669.03 336,668.2C332.77,667.37 328,665.87 324,664.6C320,663.33 315,661.6 312,660.6C309,659.6 308.5,659.45 306,658.6C303.5,657.75 300,656.55 297,655.5C294,654.45 291,653.28 288,652.3C285,651.32 282,650.35 279,649.6C276,648.85 272.7,648.1 270,647.8C267.3,647.5 264.75,647.5 262.8,647.8C260.85,648.1 259.43,648.62 258.3,649.6C257.17,650.58 256.3,652.12 256,653.7C255.7,655.28 255.82,657.53 256.5,659.1C257.18,660.67 258.75,662.2 260.1,663.1C261.45,664 263.1,664.5 264.6,664.5C266.1,664.5 267.9,663.85 269.1,663.1C270.3,662.35 271.42,661.08 271.8,660C272.18,658.92 271.78,657.47 271.4,656.6C271.02,655.73 269.82,655.1 269.5,654.8"/>
<circle cx="262.6" cy="656.8" r="1" fill="#1c1c1c" stroke="none"/>
<path d="M302.4,622.3H347.2M376.6,622.3H394.8"/>
<path d="M302.4,630.6H395" stroke-width="2.88" stroke="#333"/>
<path d="M301.5,639.5L326.3,640.8M336.2,641.3L393.8,644.2"/>
<rect x="232.4" y="620.7" width="70" height="9.2" rx="4.4" ry="4.4" stroke-width="1.75"/>
<path d="M240.5,639.7H237A4.6,4.9 0 0 1 237,629.9H297.8A4.6,4.9 0 0 1 297.8,639.7H294.2" stroke-width="1.75"/>
<path d="M239.4,640.8Q243.2,634.6 247,640.6Q251.75,634.6 256.5,640.6Q261.95,634.6 267.4,640.6Q272.85,634.6 278.3,640.6Q283.05,634.6 287.8,640.6Q291.5,634.6 295.2,640.8" stroke-width="1.38"/>
<path d="M239.4,640.8C240.75,641.07 245.1,641.62 247.5,642.4C249.9,643.18 252,644.3 253.8,645.5C255.6,646.7 257.55,648.92 258.3,649.6"/>
<path d="M295.2,640.8C294,641.1 290.25,641.82 288,642.6C285.75,643.38 283.5,644.4 281.7,645.5C279.9,646.6 277.95,648.58 277.2,649.2"/>
<path d="M401.5,600.3L406.1,598.7M401,660.6L406.1,663.1"/>
</g>
<g id="arm-r" transform="translate(932,0) scale(-1,1)">
<path d="M341.97,601.01C341.92,601.99 341.45,604.98 341.65,606.89C341.84,608.8 342.42,610.74 343.13,612.48C343.85,614.23 344.84,615.9 345.95,617.34C347.07,618.79 348.41,620.11 349.82,621.18C351.24,622.25 352.83,623.14 354.42,623.78C356.01,624.42 357.73,624.84 359.38,625.04C361.03,625.23 362.73,625.19 364.32,624.95C365.91,624.71 367.49,624.23 368.9,623.6C370.32,622.97 371.66,622.12 372.82,621.18C373.97,620.23 375.01,619.1 375.84,617.93C376.67,616.76 377.34,615.45 377.81,614.15C378.28,612.86 378.57,611.48 378.67,610.16C378.78,608.84 378.69,607.49 378.45,606.25C378.22,605 377.79,603.78 377.25,602.7C376.72,601.61 376.02,600.6 375.25,599.74C374.48,598.88 373.57,598.13 372.65,597.54C371.73,596.95 370.71,596.49 369.72,596.19C368.72,595.88 367.67,595.73 366.69,595.71C365.71,595.68 364.72,595.83 363.82,596.03C362.91,596.24 362.03,596.53 361.25,596.92C360.47,597.31 359.74,597.83 359.12,598.39C358.51,598.94 357.97,599.6 357.55,600.27C357.13,600.94 356.81,601.68 356.59,602.4C356.38,603.11 356.28,603.87 356.27,604.57C356.26,605.28 356.37,605.98 356.53,606.63C356.68,607.28 356.9,607.9 357.18,608.45C357.47,609.01 357.85,609.52 358.25,609.95C358.65,610.39 359.13,610.76 359.61,611.05C360.08,611.34 360.61,611.56 361.12,611.7C361.63,611.84 362.16,611.89 362.66,611.89C363.15,611.89 363.63,611.78 364.09,611.69C364.55,611.61 364.99,611.55 365.4,611.4C365.82,611.24 366.22,611.03 366.57,610.78C366.92,610.53 367.25,610.23 367.52,609.9C367.79,609.57 368.02,609.2 368.19,608.82C368.36,608.45 368.49,608.04 368.55,607.64C368.62,607.23 368.64,606.81 368.59,606.42C368.54,606.03 368.41,605.63 368.25,605.28C368.09,604.93 367.88,604.6 367.65,604.31C367.41,604.02 367.13,603.77 366.84,603.56C366.55,603.35 366.22,603.19 365.9,603.07C365.58,602.95 365.24,602.88 364.91,602.86C364.58,602.83 364.24,602.85 363.94,602.92C363.63,602.99 363.33,603.13 363.08,603.28C362.82,603.43 362.59,603.62 362.39,603.83C362.2,604.03 362.04,604.27 361.93,604.5C361.81,604.73 361.73,604.98 361.68,605.21C361.64,605.45 361.63,605.69 361.65,605.92C361.68,606.14 361.74,606.35 361.81,606.54C361.89,606.73 361.98,606.9 362.09,607.05C362.2,607.19 362.33,607.32 362.47,607.42C362.6,607.52 362.83,607.6 362.9,607.64"/>
<path d="M342,600.5C341.92,600.83 341.92,601.42 341.5,602.5C341.08,603.58 340.25,605.83 339.5,607C338.75,608.17 337.92,609.03 337,609.5C336.08,609.97 334.75,610.08 334,609.8C333.25,609.52 332.5,608.47 332.5,607.8C332.5,607.13 333.25,606.2 334,605.8C334.75,605.4 336.17,605.78 337,605.4C337.83,605.02 338.33,604.9 339,603.5C339.67,602.1 340,599.17 341,597C342,594.83 343.5,592.5 345,590.5C346.5,588.5 347.5,586.67 350,585C352.5,583.33 356.67,581.42 360,580.5C363.33,579.58 366.67,579.33 370,579.5C373.33,579.67 376.67,580.08 380,581.5C383.33,582.92 387,585.25 390,588C393,590.75 395.83,594.33 398,598C400.17,601.67 401.83,605.5 403,610C404.17,614.5 404.77,619 405,625C405.23,631 405.3,640.3 404.4,646C403.5,651.7 401.8,655.4 399.6,659.2C397.4,663 394.8,666 391.2,668.8C387.6,671.6 383.2,674.3 378,676C372.8,677.7 366,678.8 360,679C354,679.2 348,678.4 342,677.2C336,676 329,673.5 324,671.8C319,670.1 315.75,668.37 312,667C308.25,665.63 304.75,664.77 301.5,663.6C298.25,662.43 295.5,661.13 292.5,660C289.5,658.87 286.35,657.63 283.5,656.8C280.65,655.97 277.95,655.37 275.4,655C272.85,654.63 270.15,654.57 268.2,654.6C266.25,654.63 264.67,654.8 263.7,655.2C262.73,655.6 262.62,656.7 262.4,657"/>
<path d="M353.4,619.6C353.07,619.13 351.97,617.98 351.4,616.8C350.83,615.62 350.35,614.05 350,612.5C349.65,610.95 349.35,609.25 349.3,607.5C349.25,605.75 349.08,604.08 349.7,602C350.32,599.92 351.28,596.92 353,595C354.72,593.08 357.17,591.33 360,590.5C362.83,589.67 366.67,589.42 370,590C373.33,590.58 377,592 380,594C383,596 385.83,599 388,602C390.17,605 391.83,608.17 393,612C394.17,615.83 394.7,621.33 395,625C395.3,628.67 395.03,630.5 394.8,634C394.57,637.5 394.6,642.4 393.6,646C392.6,649.6 391.2,652.8 388.8,655.6C386.4,658.4 382.8,661 379.2,662.8C375.6,664.6 371.2,665.9 367.2,666.4C363.2,666.9 358.8,666.6 355.2,665.8C351.6,665 348.2,663.3 345.6,661.6C343,659.9 341.15,657.8 339.6,655.6C338.05,653.4 336.9,650.5 336.3,648.4C335.7,646.3 336.45,644.37 336,643C335.55,641.63 334.6,640.73 333.6,640.2C332.6,639.67 331.1,639.53 330,639.8C328.9,640.07 327.7,640.77 327,641.8C326.3,642.83 325.7,644.5 325.8,646C325.9,647.5 326.5,648.8 327.6,650.8C328.7,652.8 330.6,655.6 332.4,658C334.2,660.4 336.57,663.27 338.4,665.2C340.23,667.13 342.57,668.87 343.4,669.6"/>
<path d="M328.8,646.5C329.1,646.05 329.63,644.38 330.6,643.8C331.57,643.22 333.93,643.13 334.6,643"/>
<path d="M325.3,655L336,661"/>
<path d="M343.4,669.6C342.17,669.37 339.23,669.03 336,668.2C332.77,667.37 328,665.87 324,664.6C320,663.33 315,661.6 312,660.6C309,659.6 308.5,659.45 306,658.6C303.5,657.75 300,656.55 297,655.5C294,654.45 291,653.28 288,652.3C285,651.32 282,650.35 279,649.6C276,648.85 272.7,648.1 270,647.8C267.3,647.5 264.75,647.5 262.8,647.8C260.85,648.1 259.43,648.62 258.3,649.6C257.17,650.58 256.3,652.12 256,653.7C255.7,655.28 255.82,657.53 256.5,659.1C257.18,660.67 258.75,662.2 260.1,663.1C261.45,664 263.1,664.5 264.6,664.5C266.1,664.5 267.9,663.85 269.1,663.1C270.3,662.35 271.42,661.08 271.8,660C272.18,658.92 271.78,657.47 271.4,656.6C271.02,655.73 269.82,655.1 269.5,654.8"/>
<circle cx="262.6" cy="656.8" r="1" fill="#1c1c1c" stroke="none"/>
<path d="M302.4,622.3H347.2M376.6,622.3H394.8"/>
<path d="M302.4,630.6H395" stroke-width="2.88" stroke="#333"/>
<path d="M301.5,639.5L326.3,640.8M336.2,641.3L393.8,644.2"/>
<rect x="232.4" y="620.7" width="70" height="9.2" rx="4.4" ry="4.4" stroke-width="1.75"/>
<path d="M240.5,639.7H237A4.6,4.9 0 0 1 237,629.9H297.8A4.6,4.9 0 0 1 297.8,639.7H294.2" stroke-width="1.75"/>
<path d="M239.4,640.8Q243.2,634.6 247,640.6Q251.75,634.6 256.5,640.6Q261.95,634.6 267.4,640.6Q272.85,634.6 278.3,640.6Q283.05,634.6 287.8,640.6Q291.5,634.6 295.2,640.8" stroke-width="1.38"/>
<path d="M239.4,640.8C240.75,641.07 245.1,641.62 247.5,642.4C249.9,643.18 252,644.3 253.8,645.5C255.6,646.7 257.55,648.92 258.3,649.6"/>
<path d="M295.2,640.8C294,641.1 290.25,641.82 288,642.6C285.75,643.38 283.5,644.4 281.7,645.5C279.9,646.6 277.95,648.58 277.2,649.2"/>
<path d="M401.5,600.3L406.1,598.7M401,660.6L406.1,663.1"/>
</g>
</g>
</svg>
</body>
</html>
